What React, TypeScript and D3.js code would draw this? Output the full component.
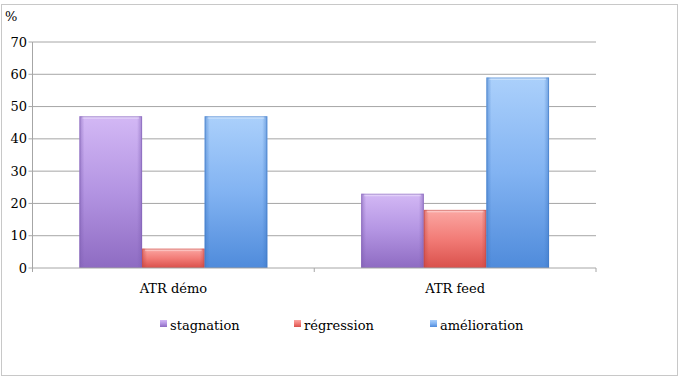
import React from "react";
import * as d3 from "d3";

const categories = ["ATR démo", "ATR feed"];
const seriesNames = ["stagnation", "régression", "amélioration"];
const stagnation = [47, 23];
const regression = [6, 18];
const amelioration = [47, 59];
const yTicks = [0, 10, 20, 30, 40, 50, 60, 70];

const seriesValues = [stagnation, regression, amelioration];
const colors = [
  { top: "#d3b8f5", mid: "#b394e2", bot: "#8e6bc2", edge: "#7f5fb3" },
  { top: "#fba7a3", mid: "#f27c77", bot: "#d9504b", edge: "#c44541" },
  { top: "#abd0fb", mid: "#82b3f2", bot: "#4f8bdb", edge: "#3f79c6" },
];

const W = 681;
const H = 379;
const left = 32.5;
const right = 596;
const top = 42;
const bottom = 268;
const font = "DejaVu Serif, Liberation Serif, Times New Roman, serif";
const textStyle = { fontFamily: font, fontSize: 13, fill: "#000" } as React.CSSProperties;

export default function App() {
  const y = d3.scaleLinear().domain([0, 70]).range([bottom, top]);
  const x0 = d3.scaleBand().domain(categories).range([left, right]).paddingInner(0).paddingOuter(0);
  const x1 = d3
    .scaleBand()
    .domain(seriesNames)
    .range([0, x0.bandwidth()])
    .paddingInner(0)
    .paddingOuter(0.75);

  const legendX = [160, 294, 430];

  return (
    <svg width={W} height={H} style={{ position: "absolute", left: 0, top: 0 }}>
      <defs>
        {colors.map((c, i) => (
          <linearGradient key={i} id={`g${i}`} x1="0" y1="0" x2="0" y2="1">
            <stop offset="0" stopColor={c.top} />
            <stop offset="0.5" stopColor={c.mid} />
            <stop offset="1" stopColor={c.bot} />
          </linearGradient>
        ))}
        {colors.map((c, i) => (
          <linearGradient key={"h" + i} id={`h${i}`} x1="0" y1="0" x2="1" y2="0">
            <stop offset="0" stopColor={c.edge} stopOpacity="0.55" />
            <stop offset="0.08" stopColor={c.edge} stopOpacity="0" />
            <stop offset="0.92" stopColor={c.edge} stopOpacity="0" />
            <stop offset="1" stopColor={c.edge} stopOpacity="0.55" />
          </linearGradient>
        ))}
      </defs>
      <rect x={1.5} y={4.5} width={676} height={371} fill="#fff" stroke="#c8c8c8" strokeWidth={1} />
      {yTicks.map((t) => (
        <g key={t}>
          {t > 0 && (
            <line x1={left} x2={right} y1={y(t)} y2={y(t)} stroke="#a6a6a6" strokeWidth={1} />
          )}
          <line x1={left - 4} x2={left} y1={y(t)} y2={y(t)} stroke="#a6a6a6" />
          <text x={27} y={y(t)} dy="0.35em" textAnchor="end" style={textStyle}>
            {t}
          </text>
        </g>
      ))}
      <text x={5} y={21} style={textStyle}>%</text>
      {seriesValues.map((vals, si) =>
        vals.map((v, ci) => {
          const bx = (x0(categories[ci]) as number) + (x1(seriesNames[si]) as number);
          const bw = x1.bandwidth();
          const by = y(v);
          const bh = bottom - by;
          return (
            <g key={`${si}-${ci}`}>
              <rect x={bx} y={by} width={bw} height={bh} fill={`url(#g${si})`} />
              <rect x={bx} y={by} width={bw} height={bh} fill={`url(#h${si})`} />
              <rect x={bx + 3} y={by} width={bw - 6} height={2.5} fill="#fff" opacity={0.35} />
              <rect x={bx + 0.5} y={by + 0.5} width={bw - 1} height={bh - 1} fill="none" stroke={colors[si].edge} strokeOpacity={0.5} />
            </g>
          );
        })
      )}
      <line x1={left} x2={left} y1={top} y2={bottom + 4} stroke="#a6a6a6" />
      <line x1={left} x2={right} y1={bottom} y2={bottom} stroke="#a6a6a6" />
      {[left, ...categories.map((c) => (x0(c) as number) + x0.bandwidth())].map((xx, i) => (
        <line key={i} x1={xx} x2={xx} y1={bottom} y2={bottom + 4} stroke="#a6a6a6" />
      ))}
      {categories.map((c) => (
        <text
          key={c}
          x={(x0(c) as number) + x0.bandwidth() / 2}
          y={288}
          dy="0.35em"
          textAnchor="middle"
          style={textStyle}
        >
          {c}
        </text>
      ))}
      {seriesNames.map((s, i) => (
        <g key={s}>
          <rect x={legendX[i]} y={320} width={7} height={7} fill={`url(#g${i})`} />
          <text x={legendX[i] + 10} y={325} dy="0.35em" style={textStyle}>
            {s}
          </text>
        </g>
      ))}
    </svg>
  );
}
